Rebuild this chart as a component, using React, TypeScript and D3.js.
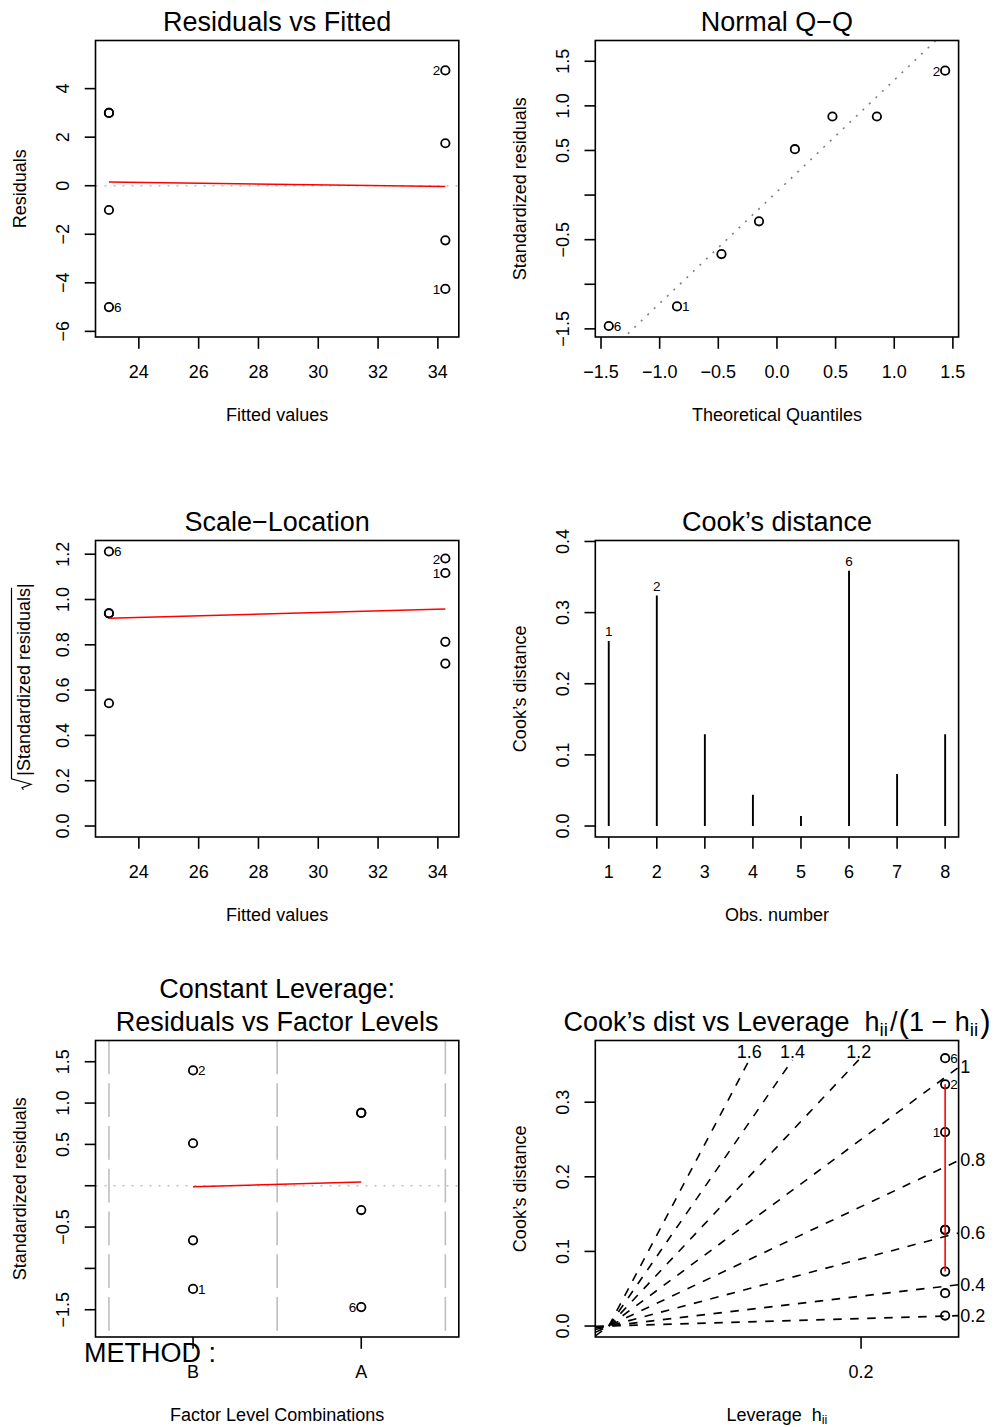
import React from "react";
import * as d3 from "d3";

const FONT = '"Liberation Sans", Arial, Helvetica, sans-serif';

// ---- model diagnostics for y ~ METHOD (8 observations) ----
const obsNumbers = [1, 2, 3, 4, 5, 6, 7, 8];
const methodLevels = ["B", "B", "A", "B", "A", "A", "B", "A"];
const factorLevels = ["B", "A"];
const fittedValues = [34.25, 34.25, 23, 34.25, 23, 23, 34.25, 23];
const residualValues = [-4.25, 4.75, 3, 1.75, -1, -5, -2.25, 3];
const standardizedResiduals = [-1.248, 1.395, 0.881, 0.514, -0.294, -1.468, -0.661, 0.881];
const theoreticalQuantiles = [-0.852, 1.434, 0.473, 0.153, -0.153, -1.434, -0.473, 0.852];
const sqrtAbsStdResiduals = [1.117, 1.181, 0.939, 0.717, 0.542, 1.212, 0.813, 0.939];
const cooksDistances = [0.26, 0.324, 0.129, 0.044, 0.014, 0.359, 0.073, 0.129];
const leverageValues = [0.25, 0.25, 0.25, 0.25, 0.25, 0.25, 0.25, 0.25];

// smoother / reference lines
const residSmoothX = [23, 34.25];
const residSmoothY = [0.15, -0.03];
const scaleSmoothY = [0.917, 0.958];
const levelSmoothX = [0, 1];
const levelSmoothY = [-0.012, 0.045];
const cookLevSmoothY = [0.073, 0.324];
const qqLineCoef = [0.037, 1.252]; // intercept, slope
const contourLevels = [0.2, 0.4, 0.6, 0.8, 1, 1.2, 1.4, 1.6];

// identified observations
const idResidFitted = [2, 1, 6];
const idQQ = [2, 1, 6];
const idScale = [6, 2, 1];
const idCook = [6, 2, 1];
const idLevel = [2, 1, 6];
const idCookLev = [6, 2, 1];
const idCookLevSides = ["right", "right", "left"];

// ticks
const fittedTicks = [24, 26, 28, 30, 32, 34];
const residualTicks = [-6, -4, -2, 0, 2, 4];
const quantileTicks = [-1.5, -1, -0.5, 0, 0.5, 1, 1.5];
const stdResidTicks = [-1.5, -1, -0.5, 0, 0.5, 1, 1.5];
const stdResidTickLabels = [-1.5, -0.5, 0.5, 1, 1.5];
const sqrtResidTicks = [0, 0.2, 0.4, 0.6, 0.8, 1, 1.2];
const cookTicks = [0, 0.1, 0.2, 0.3, 0.4];
const cookLevTicks = [0, 0.1, 0.2, 0.3];
const leverageTicks = [0.2];

// ---- layout ----
const W = 995;
const H = 1427;
const colX = [95.5, 595.3];
const rowY = [40.5, 540.5, 1040.5];
const BOX_W = 363.3;
const BOX_H = 296.5;
const TICK = 10.8;
const SW = 1.6;
const PT_R = 4.2;

type Box = { x0: number; x1: number; y0: number; y1: number; cx: number; cy: number };
const makeBox = (c: number, r: number): Box => {
  const x0 = colX[c];
  const y0 = rowY[r];
  return { x0, x1: x0 + BOX_W, y0, y1: y0 + BOX_H, cx: x0 + BOX_W / 2, cy: y0 + BOX_H / 2 };
};
const rlim = ([a, b]: number[]) => [a - 0.04 * (b - a), b + 0.04 * (b - a)];
const extendRange = ([a, b]: number[], f: number) => [a - f * (b - a), b + f * (b - a)];
const ext = (v: number[]) => d3.extent(v) as [number, number];
const minus = (s: string) => s.replace(/-/g, "\u2212");
const fmt = (d: number, digits: number) => minus(d3.format(`.${digits}f`)(d));

function Frame({ b }: { b: Box }) {
  return <rect x={b.x0} y={b.y0} width={BOX_W} height={BOX_H} fill="none" stroke="#000" strokeWidth={SW} />;
}

function Clip({ id, b }: { id: string; b: Box }) {
  return (
    <clipPath id={id}>
      <rect x={b.x0} y={b.y0} width={BOX_W} height={BOX_H} />
    </clipPath>
  );
}

function YAxis({ b, scale, ticks, labels, digits }: { b: Box; scale: any; ticks: number[]; labels?: number[]; digits: number }) {
  const lab = labels ?? ticks;
  return (
    <g>
      {ticks.map((t) => (
        <line key={"t" + t} x1={b.x0} x2={b.x0 - TICK} y1={scale(t)} y2={scale(t)} stroke="#000" strokeWidth={SW} />
      ))}
      {lab.map((t) => (
        <text
          key={"l" + t}
          transform={`translate(${b.x0 - 26.5},${scale(t)}) rotate(-90)`}
          textAnchor="middle"
          fontSize={18}
        >
          {fmt(t, digits)}
        </text>
      ))}
    </g>
  );
}

function XAxis({ b, scale, ticks, labels }: { b: Box; scale: any; ticks: number[]; labels: string[] }) {
  return (
    <g>
      {ticks.map((t, i) => (
        <g key={i}>
          <line x1={scale(t)} x2={scale(t)} y1={b.y1} y2={b.y1 + TICK + 1} stroke="#000" strokeWidth={SW} />
          <text x={scale(t)} y={b.y1 + 41} textAnchor="middle" fontSize={18}>
            {labels[i]}
          </text>
        </g>
      ))}
    </g>
  );
}

function Title({ b, text }: { b: Box; text: string }) {
  return (
    <text x={b.cx} y={b.y0 - 10} textAnchor="middle" fontSize={27}>
      {text}
    </text>
  );
}

function XTitle({ b, children }: { b: Box; children: any }) {
  return (
    <text x={b.cx} y={b.y1 + 84.2} textAnchor="middle" fontSize={18} style={{ whiteSpace: "pre" }}>
      {children}
    </text>
  );
}

function YTitle({ b, text }: { b: Box; text: string }) {
  return (
    <text transform={`translate(${b.x0 - 69.5},${b.cy}) rotate(-90)`} textAnchor="middle" fontSize={18}>
      {text}
    </text>
  );
}

function Points({ xs, ys }: { xs: number[]; ys: number[] }) {
  return (
    <g>
      {xs.map((x, i) => (
        <circle key={i} cx={x} cy={ys[i]} r={PT_R} fill="none" stroke="#000" strokeWidth={SW + 0.2} />
      ))}
    </g>
  );
}

function IdLabel({ x, y, text, side }: { x: number; y: number; text: string; side: string }) {
  const right = side === "right";
  return (
    <text x={right ? x + 5 : x - 5} y={y + 5} textAnchor={right ? "start" : "end"} fontSize={13.5}>
      {text}
    </text>
  );
}

function idSide(x: number, range: number[]) {
  return x > (range[0] + range[1]) / 2 ? "left" : "right";
}

export default function App() {
  const idx = (o: number) => obsNumbers.indexOf(o);

  // ---------- Residuals vs Fitted ----------
  const b1 = makeBox(0, 0);
  const x1s = d3.scaleLinear().domain(rlim(ext(fittedValues))).range([b1.x0, b1.x1]);
  const y1s = d3.scaleLinear().domain(rlim(extendRange(ext(residualValues), 0.08))).range([b1.y1, b1.y0]);
  const line1 = d3.line<number>().x((d, i) => x1s(residSmoothX[i])).y((d) => y1s(d));

  // ---------- Normal Q-Q ----------
  const b2 = makeBox(1, 0);
  const sr = ext(standardizedResiduals);
  const x2s = d3.scaleLinear().domain(rlim(ext(theoreticalQuantiles))).range([b2.x0, b2.x1]);
  const y2s = d3.scaleLinear().domain(rlim([sr[0], sr[1] + 0.075 * (sr[1] - sr[0])])).range([b2.y1, b2.y0]);
  const qd = x2s.domain();

  // ---------- Scale-Location ----------
  const b3 = makeBox(0, 1);
  const x3s = d3.scaleLinear().domain(rlim(ext(fittedValues))).range([b3.x0, b3.x1]);
  const y3s = d3.scaleLinear().domain(rlim([0, d3.max(sqrtAbsStdResiduals)!])).range([b3.y1, b3.y0]);

  // ---------- Cook's distance ----------
  const b4 = makeBox(1, 1);
  const x4s = d3.scaleLinear().domain(rlim(ext(obsNumbers))).range([b4.x0, b4.x1]);
  const y4s = d3.scaleLinear().domain(rlim([0, d3.max(cooksDistances)! * 1.075])).range([b4.y1, b4.y0]);

  // ---------- Residuals vs Factor Levels ----------
  const b5 = makeBox(0, 2);
  const facVal = methodLevels.map((m) => factorLevels.indexOf(m));
  const x5s = d3.scaleLinear().domain(rlim([-0.5, factorLevels.length - 0.5])).range([b5.x0, b5.x1]);
  const y5s = d3.scaleLinear().domain(rlim(extendRange(sr, 0.08))).range([b5.y1, b5.y0]);
  const levelBounds = d3.range(factorLevels.length + 1).map((k) => k - 0.5);

  // ---------- Cook's dist vs Leverage ----------
  const b6 = makeBox(1, 2);
  const g = leverageValues.map((h) => h / (1 - h));
  const x6s = d3.scaleLinear().domain(rlim([0, d3.max(g)!])).range([b6.x0, b6.x1]);
  const y6s = d3.scaleLinear().domain(rlim([0, d3.max(cooksDistances)! * 1.025])).range([b6.y1, b6.y0]);
  const [xmin6, xmax6] = x6s.domain();
  const ymax6 = y6s.domain()[1];

  return (
    <svg
      width={W}
      height={H}
      viewBox={`0 0 ${W} ${H}`}
      style={{ position: "absolute", left: 0, top: 0, background: "#fff" }}
      fontFamily={FONT}
    >
      <defs>
        <Clip id="c1" b={b1} />
        <Clip id="c2" b={b2} />
        <Clip id="c3" b={b3} />
        <Clip id="c4" b={b4} />
        <Clip id="c5" b={b5} />
        <Clip id="c6" b={b6} />
      </defs>
      <rect x={0} y={0} width={W} height={H} fill="#fff" />

      {/* Residuals vs Fitted */}
      <g>
        <g clipPath="url(#c1)">
          <line x1={b1.x0} x2={b1.x1} y1={y1s(0)} y2={y1s(0)} stroke="#bebebe" strokeWidth={SW} strokeDasharray="2 7" />
          <Points xs={fittedValues.map((v) => x1s(v))} ys={residualValues.map((v) => y1s(v))} />
          <path d={line1(residSmoothY)!} fill="none" stroke="#ff0000" strokeWidth={SW} />
        </g>
        {idResidFitted.map((o) => (
          <IdLabel
            key={o}
            x={x1s(fittedValues[idx(o)])}
            y={y1s(residualValues[idx(o)])}
            text={String(o)}
            side={idSide(fittedValues[idx(o)], ext(fittedValues))}
          />
        ))}
        <Frame b={b1} />
        <YAxis b={b1} scale={y1s} ticks={residualTicks} digits={0} />
        <XAxis b={b1} scale={x1s} ticks={fittedTicks} labels={fittedTicks.map((t) => String(t))} />
        <Title b={b1} text="Residuals vs Fitted" />
        <XTitle b={b1}>Fitted values</XTitle>
        <YTitle b={b1} text="Residuals" />
      </g>

      {/* Normal Q-Q */}
      <g>
        <g clipPath="url(#c2)">
          <line
            x1={x2s(qd[0])}
            x2={x2s(qd[1])}
            y1={y2s(qqLineCoef[0] + qqLineCoef[1] * qd[0])}
            y2={y2s(qqLineCoef[0] + qqLineCoef[1] * qd[1])}
            stroke="#7f7f7f"
            strokeWidth={SW}
            strokeDasharray="2 7"
          />
          <Points xs={theoreticalQuantiles.map((v) => x2s(v))} ys={standardizedResiduals.map((v) => y2s(v))} />
        </g>
        {idQQ.map((o) => (
          <IdLabel
            key={o}
            x={x2s(theoreticalQuantiles[idx(o)])}
            y={y2s(standardizedResiduals[idx(o)])}
            text={String(o)}
            side={idSide(theoreticalQuantiles[idx(o)], ext(theoreticalQuantiles))}
          />
        ))}
        <Frame b={b2} />
        <YAxis b={b2} scale={y2s} ticks={stdResidTicks} labels={stdResidTickLabels} digits={1} />
        <XAxis b={b2} scale={x2s} ticks={quantileTicks} labels={quantileTicks.map((t) => fmt(t, 1))} />
        <Title b={b2} text={"Normal Q\u2212Q"} />
        <XTitle b={b2}>Theoretical Quantiles</XTitle>
        <YTitle b={b2} text="Standardized residuals" />
      </g>

      {/* Scale-Location */}
      <g>
        <g clipPath="url(#c3)">
          <Points xs={fittedValues.map((v) => x3s(v))} ys={sqrtAbsStdResiduals.map((v) => y3s(v))} />
          <line
            x1={x3s(residSmoothX[0])}
            x2={x3s(residSmoothX[1])}
            y1={y3s(scaleSmoothY[0])}
            y2={y3s(scaleSmoothY[1])}
            stroke="#ff0000"
            strokeWidth={SW}
          />
        </g>
        {idScale.map((o) => (
          <IdLabel
            key={o}
            x={x3s(fittedValues[idx(o)])}
            y={y3s(sqrtAbsStdResiduals[idx(o)])}
            text={String(o)}
            side={idSide(fittedValues[idx(o)], ext(fittedValues))}
          />
        ))}
        <Frame b={b3} />
        <YAxis b={b3} scale={y3s} ticks={sqrtResidTicks} digits={1} />
        <XAxis b={b3} scale={x3s} ticks={fittedTicks} labels={fittedTicks.map((t) => String(t))} />
        <Title b={b3} text={"Scale\u2212Location"} />
        <XTitle b={b3}>Fitted values</XTitle>
        <g transform={`translate(${b3.x0 - 66},${b3.cy}) rotate(-90)`}>
          <text x={-87} y={0} textAnchor="start" fontSize={18}>
            |Standardized residuals|
          </text>
          <path
            d="M -101 -6 L -99 -7.5 L -95.5 1.5 L -90 -18 L 101 -18"
            fill="none"
            stroke="#000"
            strokeWidth={1.2}
          />
        </g>
      </g>

      {/* Cook's distance */}
      <g>
        <g clipPath="url(#c4)">
          {cooksDistances.map((c, i) => (
            <line
              key={i}
              x1={x4s(obsNumbers[i])}
              x2={x4s(obsNumbers[i])}
              y1={y4s(0)}
              y2={y4s(c)}
              stroke="#000"
              strokeWidth={SW + 0.3}
            />
          ))}
        </g>
        {idCook.map((o) => (
          <text key={o} x={x4s(o)} y={y4s(cooksDistances[idx(o)]) - 5} textAnchor="middle" fontSize={13.5}>
            {String(o)}
          </text>
        ))}
        <Frame b={b4} />
        <YAxis b={b4} scale={y4s} ticks={cookTicks} digits={1} />
        <XAxis b={b4} scale={x4s} ticks={obsNumbers} labels={obsNumbers.map((t) => String(t))} />
        <Title b={b4} text={"Cook\u2019s distance"} />
        <XTitle b={b4}>Obs. number</XTitle>
        <YTitle b={b4} text={"Cook\u2019s distance"} />
      </g>

      {/* Constant Leverage: Residuals vs Factor Levels */}
      <g>
        <g clipPath="url(#c5)">
          {levelBounds.map((v) => (
            <line
              key={v}
              x1={x5s(v)}
              x2={x5s(v)}
              y1={b5.y0}
              y2={b5.y1}
              stroke="#bebebe"
              strokeWidth={SW}
              strokeDasharray="33.75 9"
            />
          ))}
          <line x1={b5.x0} x2={b5.x1} y1={y5s(0)} y2={y5s(0)} stroke="#bebebe" strokeWidth={SW} strokeDasharray="2 7" />
          <Points xs={facVal.map((v) => x5s(v))} ys={standardizedResiduals.map((v) => y5s(v))} />
          <line
            x1={x5s(levelSmoothX[0])}
            x2={x5s(levelSmoothX[1])}
            y1={y5s(levelSmoothY[0])}
            y2={y5s(levelSmoothY[1])}
            stroke="#ff0000"
            strokeWidth={SW}
          />
        </g>
        {idLevel.map((o) => (
          <IdLabel
            key={o}
            x={x5s(facVal[idx(o)])}
            y={y5s(standardizedResiduals[idx(o)])}
            text={String(o)}
            side={idSide(facVal[idx(o)], ext(facVal))}
          />
        ))}
        <Frame b={b5} />
        <YAxis b={b5} scale={y5s} ticks={stdResidTicks} labels={stdResidTickLabels} digits={1} />
        <XAxis b={b5} scale={x5s} ticks={factorLevels.map((_, k) => k)} labels={factorLevels} />
        <text x={84} y={b5.y1 + 24.5} fontSize={27}>
          METHOD :
        </text>
        <text x={b5.cx} y={b5.y0 - 43} textAnchor="middle" fontSize={27}>
          Constant Leverage:
        </text>
        <Title b={b5} text="Residuals vs Factor Levels" />
        <XTitle b={b5}>Factor Level Combinations</XTitle>
        <YTitle b={b5} text="Standardized residuals" />
      </g>

      {/* Cook's dist vs Leverage */}
      <g>
        <g clipPath="url(#c6)">
          <Points xs={g.map((v) => x6s(v))} ys={cooksDistances.map((v) => y6s(v))} />
          <line
            x1={x6s(g[0])}
            x2={x6s(g[0])}
            y1={y6s(cookLevSmoothY[0])}
            y2={y6s(cookLevSmoothY[1])}
            stroke="#ff0000"
            strokeWidth={SW}
          />
          {contourLevels.map((bv) => {
            const bi2 = bv * bv;
            if (ymax6 > bi2 * xmax6) {
              return (
                <line
                  key={bv}
                  x1={x6s(xmin6)}
                  y1={y6s(bi2 * xmin6)}
                  x2={x6s(xmax6)}
                  y2={y6s(bi2 * xmax6)}
                  stroke="#000"
                  strokeWidth={SW}
                  strokeDasharray="8.5 8.5"
                />
              );
            }
            const yi = y6s.invert(b6.y0 + 19.4);
            const xi = yi / bi2;
            return (
              <line
                key={bv}
                x1={x6s(0)}
                y1={y6s(0)}
                x2={x6s(xi)}
                y2={y6s(yi)}
                stroke="#000"
                strokeWidth={SW}
                strokeDasharray="8.5 8.5"
              />
            );
          })}
        </g>
        {contourLevels.map((bv) => {
          const bi2 = bv * bv;
          if (ymax6 > bi2 * xmax6) {
            const xi = x6s.invert(b6.x1 + 1.7);
            return (
              <text key={bv} x={b6.x1 + 1.7} y={y6s(bi2 * xi) + 6.4} textAnchor="start" fontSize={18}>
                {String(bv)}
              </text>
            );
          }
          const yi = y6s.invert(b6.y0 + 19.4);
          const xi = yi / bi2;
          return (
            <text key={bv} x={x6s(xi)} y={b6.y0 + 17.5} textAnchor="middle" fontSize={18}>
              {String(bv)}
            </text>
          );
        })}
        {idCookLev.map((o, k) => (
          <IdLabel key={o} x={x6s(g[idx(o)])} y={y6s(cooksDistances[idx(o)])} text={String(o)} side={idCookLevSides[k]} />
        ))}
        <Frame b={b6} />
        <YAxis b={b6} scale={y6s} ticks={cookLevTicks} digits={1} />
        <XAxis
          b={b6}
          scale={x6s}
          ticks={leverageTicks.map((t) => t / (1 - t))}
          labels={leverageTicks.map((t) => String(t))}
        />
        <text x={b6.cx} y={b6.y0 - 10} textAnchor="middle" fontSize={27} style={{ whiteSpace: "pre" }}>
          {"Cook\u2019s dist vs Leverage  h"}
          <tspan fontSize={19} dy={5}>ii</tspan>
          <tspan dy={-5} dx={2}>/</tspan>
          <tspan fontSize={31} dx={1} dy={1}>(</tspan>
          <tspan dy={-1}>{"1 \u2212 h"}</tspan>
          <tspan fontSize={19} dy={5}>ii</tspan>
          <tspan fontSize={31} dy={-4} dx={2}>)</tspan>
        </text>
        <XTitle b={b6}>
          {"Leverage  h"}
          <tspan fontSize={12.6} dy={3}>ii</tspan>
        </XTitle>
        <YTitle b={b6} text={"Cook\u2019s distance"} />
      </g>
    </svg>
  );
}
